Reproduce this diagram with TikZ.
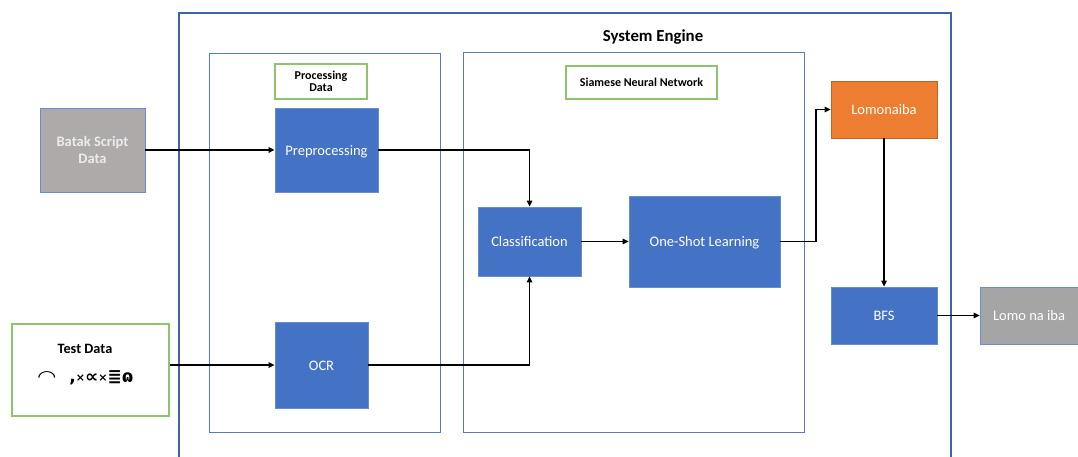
\documentclass[tikz,border=0pt]{standalone}
\usepackage{fontspec}
\setmainfont{Carlito}
\newfontfamily\symfont{DejaVu Sans}
\usetikzlibrary{arrows.meta,calc}
\definecolor{frameblue}{HTML}{3F63A8}
\definecolor{thinblue}{HTML}{5A7BBE}
\definecolor{boxblue}{HTML}{4472C4}
\definecolor{boxborder}{HTML}{6A8CCB}
\definecolor{orangebox}{HTML}{ED7D31}
\definecolor{graybox}{HTML}{A5A5A5}
\definecolor{graybatak}{HTML}{AEAAAA}
\definecolor{greenline}{HTML}{8CC56E}
\tikzset{
  bluebox/.style={draw=boxborder, line width=0.8pt, fill=boxblue, text=white, font=\fontsize{14.5}{17}\selectfont, inner sep=0pt, text height=2.1ex, text depth=0pt},
  labelbox/.style={draw=greenline, line width=1.2pt, fill=white, font=\bfseries\fontsize{12}{13}\selectfont, align=center, inner sep=0pt},
  group/.style={draw=thinblue, line width=0.9pt},
  conn/.style={draw=black, line width=1.3pt, -{Triangle[length=6pt,width=5.5pt]}},
}
\begin{document}
\begin{tikzpicture}[x=1pt,y=-1pt]
\useasboundingbox (0,0) rectangle (1078,457);
% outer System Engine frame (open at bottom)
\draw[frameblue, line width=2pt] (179,457) -- (179,13) -- (951,13) -- (951,457);
\node[font=\bfseries\fontsize{16.8}{19}\selectfont] (title) at (653,37) {System Engine};
% groups
\node[group, minimum width=231, minimum height=379, inner sep=0pt] (procgrp) at (324.5,242.5) {};
\node[group, minimum width=341, minimum height=380, inner sep=0pt] (siamgrp) at (633.5,242) {};
% labels
\node[labelbox, minimum width=92, minimum height=35] (proclbl) at (321,81.5) {Processing\\[-1pt]Data};
\node[labelbox, minimum width=151, minimum height=33] (siamlbl) at (641.5,82.5) {Siamese Neural Network};
% blue boxes
\node[bluebox, minimum width=103, minimum height=84] (pre) at (326.5,150) {Preprocessing};
\node[bluebox, minimum width=93, minimum height=86] (ocr) at (321.5,365) {OCR};
\node[bluebox, minimum width=103, minimum height=69] (cls) at (529.5,241.5) {Classification};
\node[bluebox, minimum width=151, minimum height=91] (osl) at (704.5,241.5) {One-Shot Learning};
\node[bluebox, minimum width=106, minimum height=57] (bfs) at (884,315.5) {BFS};
\node[bluebox, draw=orangebox!80!black, fill=orangebox, minimum width=106, minimum height=57] (lom) at (884,109.5) {Lomonaiba};
\node[bluebox, fill=graybox, minimum width=98, minimum height=57] (out) at (1029,315.5) {Lomo na iba};
% input boxes
\node[bluebox, fill=graybatak, text=white!92!black, font=\bfseries\fontsize{14.5}{17}\selectfont, align=center, text height=, text depth=, minimum width=105, minimum height=84] (batak) at (92.5,150) {Batak Script\\Data};
\node[draw=greenline, line width=1.2pt, fill=white, minimum width=157, minimum height=92, inner sep=0pt] (test) at (90.5,370) {};
\node[font=\bfseries\fontsize{14.3}{16}\selectfont] (testlbl) at (85,349) {Test Data};
\node[font=\symfont\bfseries\fontsize{17}{18}\selectfont] (testscript) at (86,378) {\scalebox{1.3}[1]{◠}\hspace{14pt},\raisebox{1pt}{\fontsize{11}{11}\selectfont×}\scalebox{1.1}[1]{∝}\raisebox{1pt}{\fontsize{11}{11}\selectfont×}≣ɷ};
% connectors
\coordinate (bend) at (816,241.5);
\draw[conn] (batak.east) -- (pre.west);
\draw[conn] (test.east |- ocr.west) -- (ocr.west);
\draw[conn] (pre.east) -| (cls.north);
\draw[conn] (ocr.east) -| (cls.south);
\draw[conn] (cls.east) -- (osl.west);
\draw[conn] (osl.east) -- (bend) |- (lom.west);
\draw[conn] (lom.south) -- (bfs.north);
\draw[conn] (bfs.east) -- (out.west);
\end{tikzpicture}
\end{document}
